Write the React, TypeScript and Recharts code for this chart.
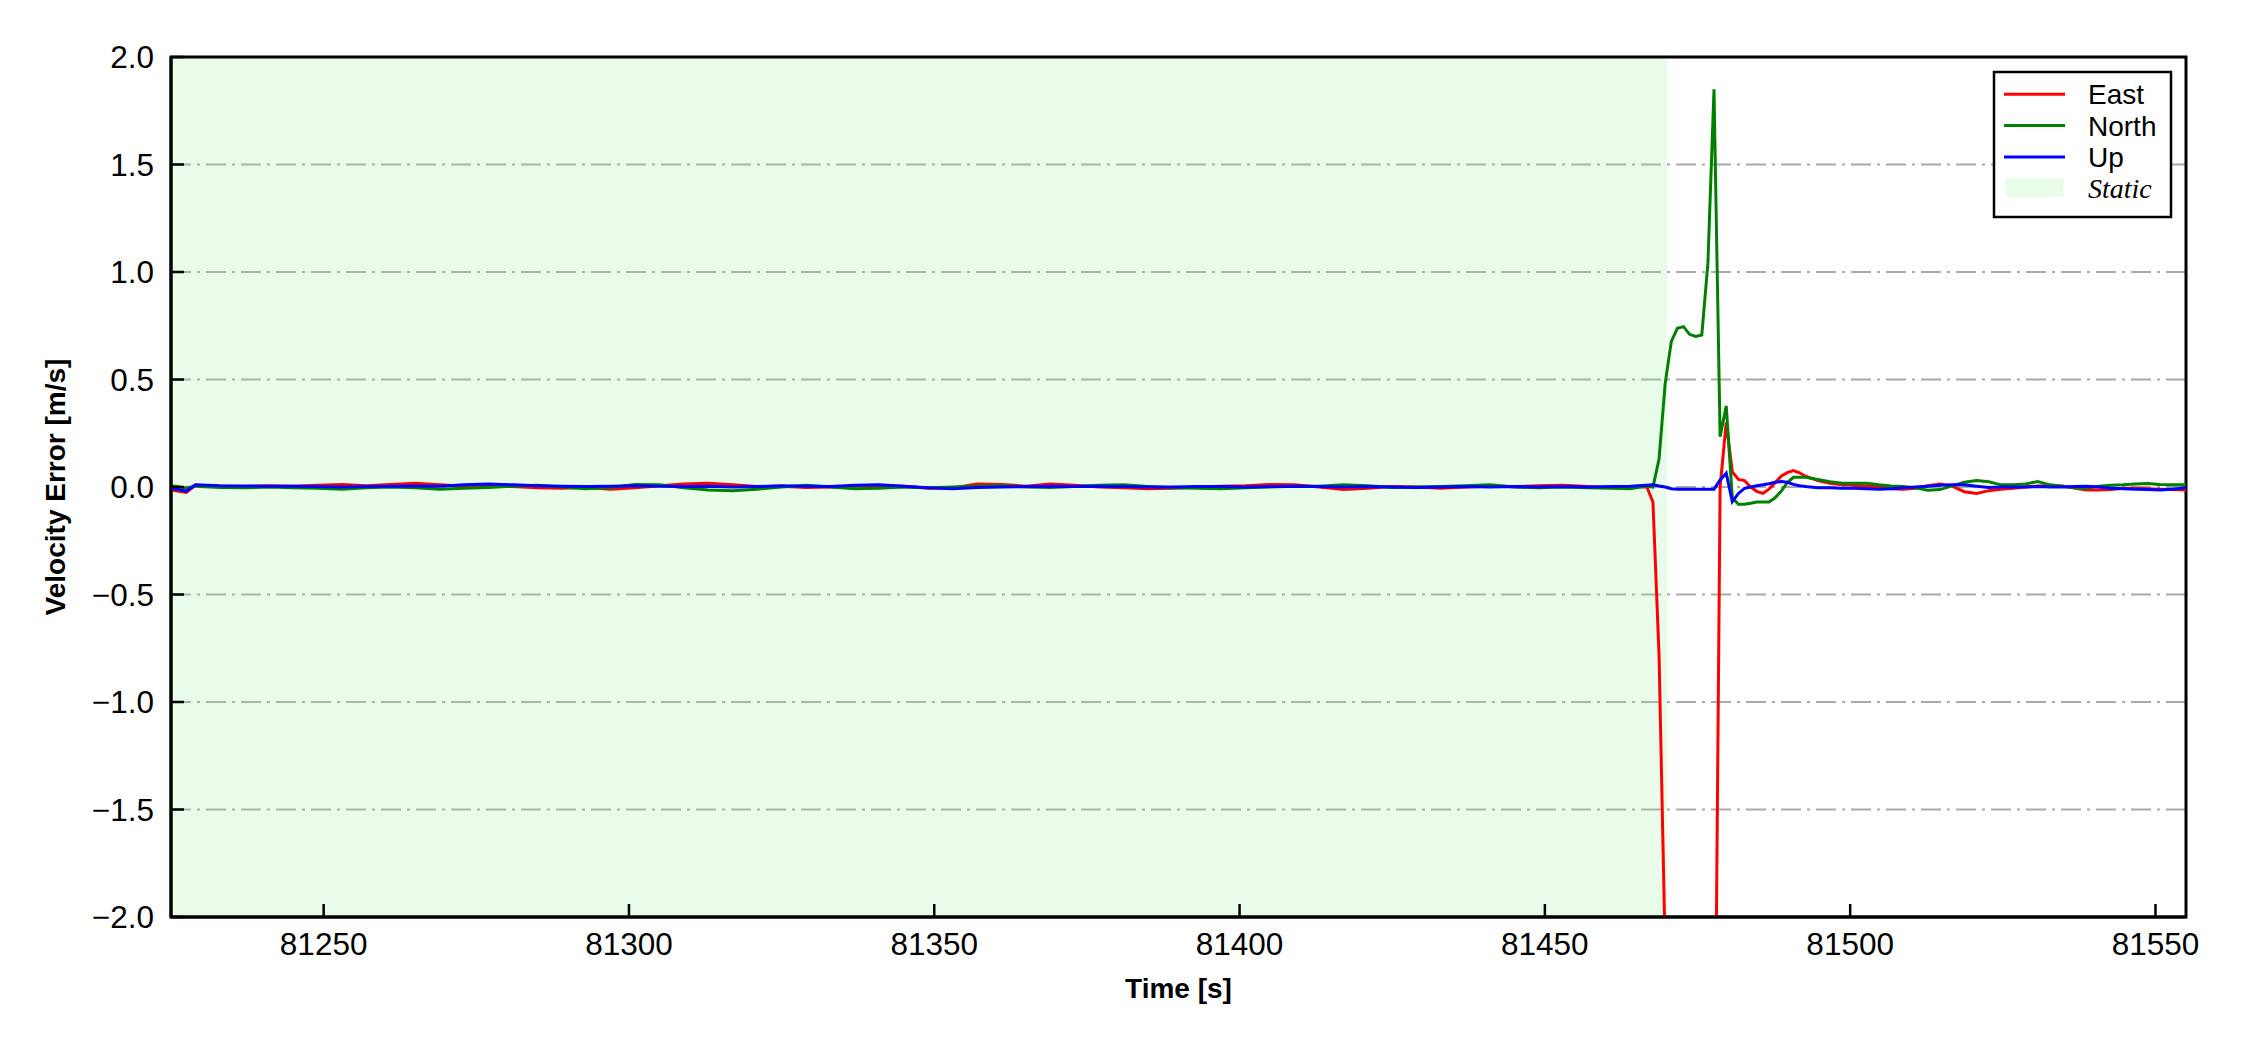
import React from "react";
import {
    LineChart,
    Line,
    XAxis,
    YAxis,
    CartesianGrid,
    ReferenceArea,
} from "recharts";

const FONT = '"Liberation Sans", Arial, Helvetica, sans-serif';

// time stamps [s] - sparse in the static part, dense around the jump
const time = [
    81225, 81227.5, 81229, 81233, 81237, 81241, 81245, 81249, 81253, 81257,
    81261, 81265, 81269, 81273, 81277, 81281, 81285, 81289, 81293, 81297,
    81301, 81305, 81309, 81313, 81317, 81321, 81325, 81329, 81333, 81337,
    81341, 81345, 81349, 81353, 81357, 81361, 81365, 81369, 81373, 81377,
    81381, 81385, 81389, 81393, 81397, 81401, 81405, 81409, 81413, 81417,
    81421, 81425, 81429, 81433, 81437, 81441, 81445, 81449, 81453, 81457,
    81461, 81464, 81466.7,
    81467.7, 81468.7, 81469.7, 81470.7, 81471.7, 81472.7, 81473.7, 81474.7, 81475.7, 81476.7,
    81477.7, 81478.7, 81479.7, 81480.7, 81481.7, 81482.7, 81483.7, 81484.7, 81485.7, 81486.7,
    81487.7, 81488.7, 81489.7, 81490.7, 81491.7, 81492.7,
    81494.7, 81496.7, 81498.7, 81500.7, 81502.7, 81504.7, 81506.7, 81508.7, 81510.7, 81512.7,
    81514.7, 81516.7, 81518.7, 81520.7, 81522.7, 81524.7, 81526.7, 81528.7, 81530.7, 81532.7,
    81534.7, 81536.7, 81538.7, 81540.7, 81542.7, 81544.7, 81546.7, 81548.7, 81550.7, 81552.7,
    81555,
];

const east = [
    -0.014, -0.025, 0.008, 0.004, 0.002, 0.006, 0.003, 0.008, 0.012, 0.006,
    0.012, 0.017, 0.01, 0.004, 0.006, 0.002, -0.004, -0.006, -0.002, -0.01,
    -0.004, 0.006, 0.014, 0.017, 0.01, 0.002, 0.004, -0.002, 0.0, 0.004,
    0.006, 0.004, -0.006, -0.004, 0.014, 0.012, 0.004, 0.014, 0.008, 0.0,
    -0.004, -0.008, -0.006, 0.0, 0.004, 0.006, 0.012, 0.01, 0.0, -0.012,
    -0.006, 0.002, 0.0, -0.006, 0.0, 0.004, 0.002, 0.006, 0.008, 0.002,
    -0.004, 0.002, 0.0,
    -0.07, -0.78, -2.15, -3.2, -3.6, -3.8, -3.9, -3.9, -3.8, -3.6,
    -3.33, 0.0, 0.3, 0.07, 0.035, 0.03, 0.0, -0.02, -0.03, -0.01,
    0.02, 0.05, 0.067, 0.076, 0.066, 0.05,
    0.03, 0.017, 0.01, 0.008, 0.005, 0.0, -0.008, -0.01, -0.006, 0.006,
    0.014, 0.004, -0.022, -0.03, -0.017, -0.01, -0.006, 0.0, 0.005, 0.006,
    0.005, -0.005, -0.014, -0.014, -0.012, -0.006, -0.006, -0.008, -0.01, -0.012,
    -0.014,
];

const north = [
    0.006, -0.005, 0.004, -0.002, -0.004, 0.0, -0.003, -0.006, -0.01, -0.004,
    0.0, -0.004, -0.01, -0.006, -0.002, 0.004, 0.008, 0.0, -0.008, -0.002,
    0.012, 0.01, -0.004, -0.014, -0.018, -0.01, 0.0, 0.008, 0.0, -0.008,
    -0.006, 0.0, -0.004, 0.0, 0.004, 0.006, 0.0, -0.002, 0.002, 0.008,
    0.01, 0.002, -0.004, -0.006, -0.008, -0.004, 0.0, 0.004, 0.004, 0.01,
    0.006, -0.002, 0.0, 0.002, 0.006, 0.01, 0.0, -0.004, 0.0, -0.004,
    -0.006, -0.008, 0.004,
    0.0, 0.13, 0.48, 0.676, 0.738, 0.746, 0.71, 0.7, 0.707, 1.04,
    1.85, 0.234, 0.377, -0.05, -0.08, -0.08, -0.076, -0.07, -0.07, -0.07,
    -0.05, -0.02, 0.02, 0.045, 0.045, 0.045,
    0.035, 0.025, 0.018, 0.017, 0.017, 0.01, 0.005, 0.002, -0.004, -0.015,
    -0.012, 0.005, 0.022, 0.03, 0.024, 0.01, 0.01, 0.014, 0.025, 0.01,
    0.004, -0.004, -0.006, 0.004, 0.008, 0.01, 0.014, 0.016, 0.012, 0.01,
    0.01,
];

const up = [
    -0.006, -0.019, 0.01, 0.006, 0.005, 0.004, 0.003, 0.002, 0.0, 0.002,
    0.004, 0.005, 0.004, 0.01, 0.014, 0.01, 0.006, 0.004, 0.002, 0.004,
    0.006, 0.004, 0.002, 0.004, 0.0, 0.002, 0.006, 0.004, 0.002, 0.008,
    0.01, 0.004, -0.004, -0.008, -0.002, 0.0, 0.002, 0.004, 0.002, 0.004,
    0.002, 0.0, 0.0, 0.002, 0.002, 0.0, 0.002, 0.004, 0.002, 0.0,
    0.002, 0.0, -0.002, 0.0, 0.002, 0.0, 0.002, 0.0, 0.002, 0.0,
    0.002, 0.004, 0.008,
    0.01, 0.005, 0.0, -0.008, -0.01, -0.01, -0.01, -0.01, -0.01, -0.01,
    -0.01, 0.033, 0.064, -0.068, -0.03, -0.006, 0.0, 0.006, 0.01, 0.015,
    0.022, 0.025, 0.022, 0.012, 0.006, 0.002,
    -0.003, -0.004, -0.006, -0.006, -0.008, -0.01, -0.008, -0.004, 0.0, 0.004,
    0.008, 0.01, 0.01, 0.004, -0.002, 0.0, 0.0, 0.0, 0.002, 0.0,
    0.0, 0.002, 0.003, 0.0, -0.006, -0.008, -0.01, -0.012, -0.014, -0.01,
    -0.004,
];

const xDomain = [81225, 81555];
const staticEnd = 81470;
const xTicks = [81250, 81300, 81350, 81400, 81450, 81500, 81550];
const yTicks = [-2, -1.5, -1, -0.5, 0, 0.5, 1, 1.5, 2];

const data = time.map((t, i) => ({
    time: t,
    east: east[i],
    north: north[i],
    up: up[i],
}));

const fmtY = (v: number) => v.toFixed(1).replace("-", "\u2212");

const legendRows = [
    { name: "East", color: "#ff0000" },
    { name: "North", color: "#008000" },
    { name: "Up", color: "#0000ff" },
];

const App = () => {
    return (
        <div
            style={{
                position: "absolute",
                left: 0,
                top: 0,
                width: 2250,
                height: 1050,
                background: "#fff",
            }}
        >
            <LineChart
                width={2250}
                height={1050}
                data={data}
                margin={{ top: 57, right: 64, bottom: 33, left: 0 }}
            >
                <ReferenceArea
                    x1={xDomain[0]}
                    x2={staticEnd}
                    y1={-2}
                    y2={2}
                    fill="#90ee90"
                    fillOpacity={0.2}
                    stroke="none"
                />
                <CartesianGrid
                    vertical={false}
                    stroke="#aaaaaa"
                    strokeWidth={2.2}
                    strokeDasharray="20 6 3 6"
                />
                <XAxis
                    dataKey="time"
                    type="number"
                    domain={xDomain}
                    allowDataOverflow
                    ticks={xTicks}
                    height={100}
                    tickSize={-13}
                    tickMargin={29}
                    tick={{ fontSize: 31.5, fill: "#000", fontFamily: FONT }}
                    tickLine={{ stroke: "#000", strokeWidth: 2.5 }}
                    axisLine={{ stroke: "#000", strokeWidth: 3 }}
                />
                <YAxis
                    type="number"
                    domain={[-2, 2]}
                    allowDataOverflow
                    ticks={yTicks}
                    width={171}
                    tickSize={-13}
                    tickMargin={30}
                    tickFormatter={fmtY}
                    tick={{ fontSize: 31.5, fill: "#000", fontFamily: FONT }}
                    tickLine={{ stroke: "#000", strokeWidth: 2.5 }}
                    axisLine={{ stroke: "#000", strokeWidth: 3 }}
                />
                <Line
                    type="linear"
                    dataKey="east"
                    stroke="#ff0000"
                    strokeWidth={3}
                    dot={false}
                    isAnimationActive={false}
                />
                <Line
                    type="linear"
                    dataKey="north"
                    stroke="#008000"
                    strokeWidth={3}
                    dot={false}
                    isAnimationActive={false}
                />
                <Line
                    type="linear"
                    dataKey="up"
                    stroke="#0000ff"
                    strokeWidth={3}
                    dot={false}
                    isAnimationActive={false}
                />
                <ReferenceArea
                    x1={xDomain[0]}
                    x2={xDomain[1]}
                    y1={-2}
                    y2={2}
                    fill="none"
                    stroke="#000"
                    strokeWidth={3}
                />
            </LineChart>

            {/* titles + legend */}
            <svg
                width={2250}
                height={1050}
                style={{ position: "absolute", left: 0, top: 0, pointerEvents: "none" }}
            >
                <text
                    x={1178.5}
                    y={998}
                    textAnchor="middle"
                    fontFamily={FONT}
                    fontWeight="bold"
                    fontSize={28}
                    fill="#000"
                >
                    Time [s]
                </text>
                <text
                    x={65}
                    y={487}
                    transform="rotate(-90, 65, 487)"
                    textAnchor="middle"
                    fontFamily={FONT}
                    fontWeight="bold"
                    fontSize={28}
                    fill="#000"
                >
                    Velocity Error [m/s]
                </text>

                <rect
                    x={1994}
                    y={72}
                    width={177}
                    height={145}
                    fill="#fff"
                    stroke="#000"
                    strokeWidth={2.5}
                />
                {legendRows.map((r, i) => (
                    <g key={r.name}>
                        <line
                            x1={2004}
                            x2={2065}
                            y1={94.3 + i * 31.3}
                            y2={94.3 + i * 31.3}
                            stroke={r.color}
                            strokeWidth={3}
                        />
                        <text
                            x={2088}
                            y={104.3 + i * 31.3}
                            fontFamily={FONT}
                            fontSize={28}
                            fill="#000"
                        >
                            {r.name}
                        </text>
                    </g>
                ))}
                <rect x={2005.5} y={178} width={58} height={19} fill="#90ee90" fillOpacity={0.2} />
                <text
                    x={2088}
                    y={198.3}
                    fontFamily={'"Liberation Serif", "Times New Roman", serif'}
                    fontStyle="italic"
                    fontSize={28}
                    fill="#000"
                >
                    Static
                </text>
            </svg>
        </div>
    );
};

export default App;
